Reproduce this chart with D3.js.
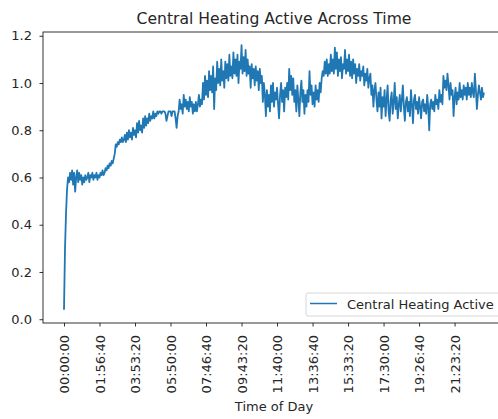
<!DOCTYPE html>
<html>
<head>
<meta charset="utf-8">
<script src="https://cdn.jsdelivr.net/npm/d3@7"></script>
<style>
  body { margin: 0; background: #fff; }
  svg { font-family: "DejaVu Sans", sans-serif; }
</style>
</head>
<body>
<svg id="chart" width="498" height="419"></svg>
<script>
// seconds between samples
const stepSeconds = 200;

// heating value per sample
const heating = [
  0.04, 0.30, 0.45, 0.55, 0.60, 0.58, 0.62, 0.59, 0.63, 0.57,
  0.62, 0.54, 0.60, 0.63, 0.58, 0.62, 0.59, 0.61, 0.57, 0.60,
  0.58, 0.61, 0.59, 0.60, 0.62, 0.58, 0.61, 0.60, 0.62, 0.59,
  0.61, 0.60, 0.62, 0.59, 0.61, 0.60, 0.62, 0.61, 0.63, 0.61,
  0.62, 0.64, 0.63, 0.65, 0.64, 0.66, 0.65, 0.67, 0.66, 0.68,
  0.70, 0.74, 0.73, 0.75, 0.74, 0.76, 0.75, 0.77, 0.75, 0.76,
  0.78, 0.75, 0.79, 0.76, 0.80, 0.77, 0.79, 0.76, 0.81, 0.78,
  0.80, 0.77, 0.83, 0.79, 0.84, 0.80, 0.82, 0.79, 0.85, 0.81,
  0.86, 0.82, 0.85, 0.83, 0.87, 0.84, 0.86, 0.85, 0.88, 0.85,
  0.87, 0.86, 0.88, 0.87, 0.88, 0.88, 0.87, 0.88, 0.88, 0.88,
  0.87, 0.84, 0.86, 0.88, 0.88, 0.88, 0.86, 0.88, 0.88, 0.88,
  0.85, 0.81, 0.86, 0.88, 0.93, 0.89, 0.91, 0.87, 0.95, 0.90,
  0.93, 0.89, 0.92, 0.88, 0.94, 0.90, 0.92, 0.87, 0.91, 0.88,
  0.92, 0.88, 0.91, 0.95, 0.90, 0.93, 0.91, 1.00, 0.93, 1.03,
  0.95, 1.01, 0.94, 1.05, 0.97, 1.03, 0.96, 1.07, 0.89, 1.02,
  0.97, 1.09, 1.00, 1.06, 0.99, 1.10, 1.01, 1.05, 0.98, 1.09,
  1.02, 1.08, 1.01, 1.12, 1.03, 1.07, 1.02, 1.13, 1.04, 1.10,
  1.03, 1.12, 1.00, 1.09, 1.06, 1.16, 1.04, 1.11, 1.05, 1.14,
  1.03, 1.10, 1.04, 1.07, 0.98, 1.08, 1.02, 1.06, 0.99, 1.07,
  1.01, 1.05, 0.97, 1.06, 1.00, 1.03, 0.92, 1.00, 0.95, 0.86,
  0.97, 0.90, 0.95, 0.88, 0.99, 0.92, 1.00, 0.90, 0.96, 0.93,
  0.98, 0.91, 0.85, 0.95, 1.00, 0.92, 0.97, 0.88, 0.98, 0.94,
  1.00, 0.93, 1.06, 0.97, 1.03, 0.95, 1.02, 0.92, 0.97, 0.88,
  0.99, 0.93, 0.86, 0.96, 1.01, 0.92, 0.97, 0.87, 0.95, 0.90,
  0.97, 0.92, 1.05, 0.95, 0.99, 0.91, 0.96, 0.90, 0.99, 0.93,
  0.97, 0.92, 1.00, 0.96, 1.02, 1.05, 1.03, 1.09, 1.04, 1.10,
  1.03, 1.08, 1.04, 1.12, 1.05, 1.10, 1.04, 1.15, 1.06, 1.13,
  1.03, 1.10, 1.05, 1.11, 1.02, 1.08, 1.06, 1.14, 1.04, 1.10,
  1.05, 1.12, 1.03, 1.09, 1.02, 1.10, 1.04, 1.08, 1.00, 1.06,
  1.03, 1.08, 1.01, 1.05, 1.03, 1.07, 0.99, 1.04, 1.01, 1.06,
  0.98, 1.02, 1.04, 0.95, 0.99, 0.90, 0.97, 1.00, 0.93, 0.88,
  0.96, 0.90, 0.98, 0.85, 0.94, 0.90, 0.97, 0.86, 0.93, 0.99,
  0.88, 0.84, 0.93, 0.96, 0.87, 0.92, 1.00, 0.89, 0.94, 0.85,
  0.91, 0.95, 0.88, 0.93, 0.99, 0.90, 0.84, 0.92, 0.94, 0.88,
  0.92, 0.86, 0.97, 0.91, 0.83, 0.93, 0.95, 0.89, 0.92, 0.87,
  0.94, 0.90, 0.85, 0.92, 0.93, 0.88, 0.91, 0.87, 0.95, 0.90,
  0.80, 0.91, 0.93, 0.89, 0.92, 0.88, 0.95, 0.91, 0.93, 0.89,
  0.97, 0.92, 0.95, 0.91, 1.03, 0.98, 1.01, 0.97, 1.04, 0.99,
  0.93, 1.00, 0.95, 0.97, 0.86, 0.94, 0.98, 0.91, 0.96, 0.93,
  1.00, 0.94, 0.97, 0.93, 0.99, 0.95, 0.98, 0.93, 1.00, 0.95,
  0.98, 0.94, 1.00, 0.96, 0.94, 1.04, 0.97, 0.89, 0.95, 0.99,
  0.96, 0.93, 0.98, 0.94, 0.96
];

const xTicks = [0, 7000, 14000, 21000, 28000, 35000, 42000, 49000, 56000, 63000, 70000, 77000];
const yTicks = [0.0, 0.2, 0.4, 0.6, 0.8, 1.0, 1.2];

const seriesName = "Central Heating Active";
const title = "Central Heating Active Across Time";
const xLabel = "Time of Day";

const data = heating.map((v, i) => ({ t: i * stepSeconds, v: v }));

const svg = d3.select("#chart");
const plotLeft = 43, plotRight = 505, plotTop = 32, plotBottom = 323;

const tMax = d3.max(data, d => d.t);
const vMin = d3.min(heating), vMax = d3.max(heating);
const xPad = tMax * 0.05, yPad = (vMax - vMin) * 0.05;

const x = d3.scaleLinear().domain([-xPad, tMax + xPad]).range([plotLeft, plotRight]);
const y = d3.scaleLinear().domain([vMin - yPad, vMax + yPad]).range([plotBottom, plotTop]);

const fmtTime = s => {
  const h = Math.floor(s / 3600), m = Math.floor((s % 3600) / 60), sec = s % 60;
  return [h, m, sec].map(n => String(n).padStart(2, "0")).join(":");
};

// line
const line = d3.line().x(d => x(d.t)).y(d => y(d.v));
svg.append("path")
  .datum(data)
  .attr("fill", "none")
  .attr("stroke", "#1f77b4")
  .attr("stroke-width", 1.8)
  .attr("stroke-linejoin", "round")
  .attr("d", line);

// frame
svg.append("rect")
  .attr("x", plotLeft).attr("y", plotTop)
  .attr("width", plotRight - plotLeft).attr("height", plotBottom - plotTop)
  .attr("fill", "none").attr("stroke", "#000").attr("stroke-width", 0.8);

// y axis
const yAxis = svg.append("g")
  .attr("transform", `translate(${plotLeft},0)`)
  .call(d3.axisLeft(y).tickValues(yTicks).tickFormat(d3.format(".1f")).tickSize(3.5).tickPadding(7.5));
yAxis.select(".domain").remove();
yAxis.selectAll("line").attr("stroke", "#000").attr("stroke-width", 0.8);
yAxis.selectAll("text").attr("font-size", 13).attr("fill", "#262626").attr("font-family", "DejaVu Sans");

// x axis
const xAxis = svg.append("g")
  .attr("transform", `translate(0,${plotBottom})`)
  .call(d3.axisBottom(x).tickValues(xTicks).tickFormat(fmtTime).tickSize(3.5).tickPadding(3.5));
xAxis.select(".domain").remove();
xAxis.selectAll("line").attr("stroke", "#000").attr("stroke-width", 0.8);
xAxis.selectAll("text")
  .attr("font-size", 13).attr("fill", "#262626").attr("font-family", "DejaVu Sans")
  .attr("text-anchor", "end")
  .attr("dy", "0.35em")
  .attr("transform", "translate(0,12) rotate(-90)")
  .attr("x", 0).attr("y", 0);

// titles
svg.append("text")
  .attr("x", (plotLeft + plotRight) / 2).attr("y", 24)
  .attr("text-anchor", "middle")
  .attr("font-size", 15.6).attr("fill", "#262626")
  .text(title);

svg.append("text")
  .attr("x", (plotLeft + plotRight) / 2).attr("y", 411)
  .attr("text-anchor", "middle")
  .attr("font-size", 13).attr("fill", "#262626")
  .text(xLabel);

// legend
const legend = svg.append("g").attr("transform", "translate(306,293)");
legend.append("rect")
  .attr("width", 200).attr("height", 23).attr("rx", 2)
  .attr("fill", "#fff").attr("fill-opacity", 0.8)
  .attr("stroke", "#cccccc").attr("stroke-width", 0.8);
legend.append("line")
  .attr("x1", 4).attr("x2", 31).attr("y1", 10.5).attr("y2", 10.5)
  .attr("stroke", "#1f77b4").attr("stroke-width", 1.5);
legend.append("text")
  .attr("x", 41).attr("y", 15.5)
  .attr("font-size", 13).attr("fill", "#262626")
  .text(seriesName);
</script>
</body>
</html>
